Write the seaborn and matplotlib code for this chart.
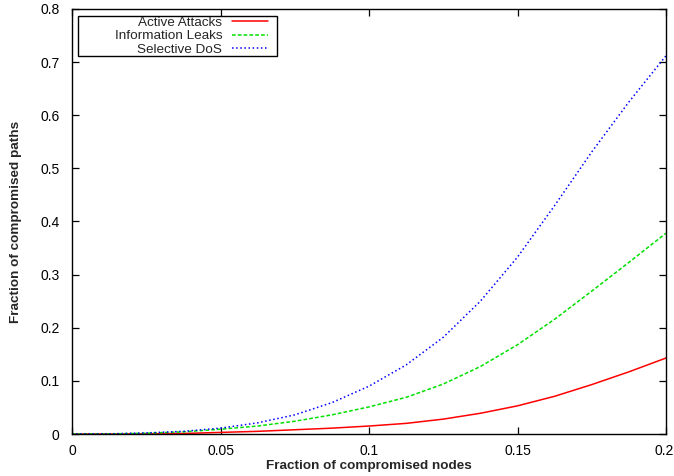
import matplotlib
matplotlib.use("Agg")
import matplotlib.pyplot as plt
import matplotlib.transforms as mtransforms
from matplotlib.patches import Rectangle
import seaborn as sns
import pandas as pd

# Fraction of compromised nodes (x) and resulting fraction of compromised paths
nodes = [0.0, 0.0125, 0.025, 0.0375, 0.05, 0.0625, 0.075, 0.0875, 0.1,
         0.1125, 0.125, 0.1375, 0.15, 0.1625, 0.175, 0.1875, 0.2]
active_attacks = [0.0, 0.0, 0.0003, 0.001, 0.003, 0.005, 0.008, 0.011, 0.015,
                  0.020, 0.028, 0.039, 0.053, 0.071, 0.093, 0.117, 0.143]
information_leaks = [0.0, 0.0002, 0.0015, 0.004, 0.009, 0.015, 0.024, 0.036, 0.051,
                     0.069, 0.094, 0.127, 0.168, 0.216, 0.269, 0.323, 0.378]
selective_dos = [0.0, 0.0003, 0.002, 0.005, 0.011, 0.021, 0.036, 0.059, 0.090,
                 0.130, 0.182, 0.250, 0.333, 0.430, 0.531, 0.625, 0.712]

series_names = ["Active Attacks", "Information Leaks", "Selective DoS"]
x_ticks = [0, 0.05, 0.1, 0.15, 0.2]
x_tick_labels = ["0", "0.05", "0.1", "0.15", "0.2"]
y_ticks = [0, 0.1, 0.2, 0.3, 0.4, 0.5, 0.6, 0.7, 0.8]
y_tick_labels = ["0", "0.1", "0.2", "0.3", "0.4", "0.5", "0.6", "0.7", "0.8"]

df = pd.DataFrame({
    "nodes": nodes * 3,
    "paths": active_attacks + information_leaks + selective_dos,
    "kind": [series_names[0]] * len(nodes) + [series_names[1]] * len(nodes)
            + [series_names[2]] * len(nodes),
})

sns.set_style("ticks")
plt.rcParams["font.family"] = ["Liberation Sans", "DejaVu Sans"]
plt.rcParams["font.size"] = 10

fig = plt.figure(figsize=(6.74, 4.76), dpi=100)
ax = fig.add_axes([72 / 674, 42 / 476, 594 / 674, 425 / 476])

styles = {
    "Active Attacks": dict(color="#ff0000", dashes=None),
    "Information Leaks": dict(color="#00e000", dashes=(2.4, 1.4)),
    "Selective DoS": dict(color="#0000ff", dashes=(1.0, 1.7)),
}
for name in series_names:
    sub = df[df["kind"] == name]
    sns.lineplot(data=sub, x="nodes", y="paths", ax=ax, color=styles[name]["color"],
                 linewidth=1.1, label=name, estimator=None, sort=True)
for line, name in zip(ax.get_lines(), series_names):
    if styles[name]["dashes"] is not None:
        line.set_dashes(styles[name]["dashes"])

ax.set_xlim(0, 0.2)
ax.set_ylim(0, 0.8)
ax.set_xticks(x_ticks)
ax.set_xticklabels(x_tick_labels)
ax.set_yticks(y_ticks)
ax.set_yticklabels(y_tick_labels)
ax.tick_params(direction="in", length=5, width=0.9, top=True, right=True,
               labelsize=10, color="black", labelcolor="black")
ax.tick_params(axis="x", pad=7)
ax.tick_params(axis="y", pad=9)
for sp in ax.spines.values():
    sp.set_visible(True)
    sp.set_linewidth(1.0)
    sp.set_color("black")

# keep the last x tick label inside the canvas
last = ax.get_xticklabels()[-1]
last.set_transform(last.get_transform() +
                   mtransforms.ScaledTranslation(-2 / 100, 0, fig.dpi_scale_trans))

ax.set_xlabel("Fraction of compromised nodes", fontweight="bold", fontsize=9.7)
ax.set_ylabel("Fraction of compromised paths", fontweight="bold", fontsize=9.7)
ax.xaxis.set_label_coords(0.5, -0.060)
ax.yaxis.set_label_coords(-0.084, 0.5)

leg = ax.legend(loc="upper right", bbox_to_anchor=(0.330, 0.982), frameon=False,
                markerfirst=False, handlelength=2.7, handletextpad=0.7,
                labelspacing=0.06, borderpad=0, borderaxespad=0, fontsize=9.7)
ax.add_patch(Rectangle((0.0101, 0.890), 0.335, 0.094, transform=ax.transAxes,
                       fill=False, edgecolor="black", linewidth=1.0, zorder=5))

fig.savefig("out.png", dpi=100)
